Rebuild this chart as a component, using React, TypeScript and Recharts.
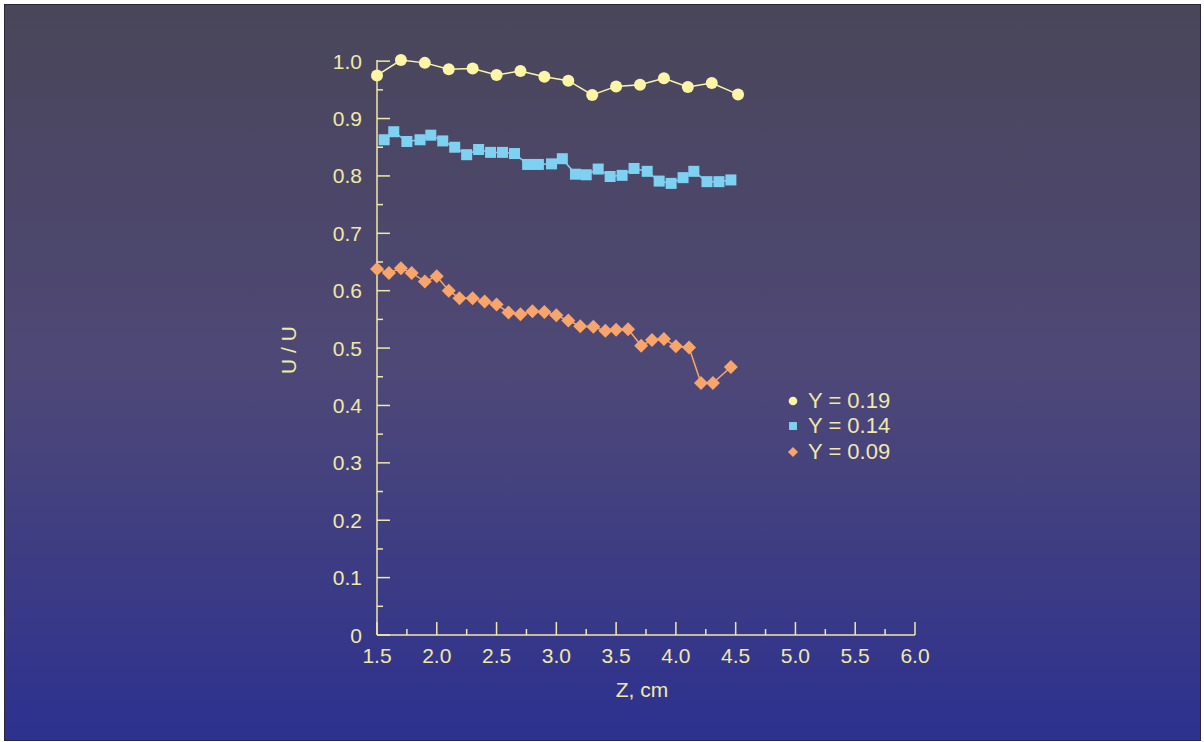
import { LineChart, Line, XAxis, YAxis, Label } from 'recharts'

// Z positions (cm) and U/U values per series
const zY19 = [1.5, 1.7, 1.9, 2.1, 2.3, 2.5, 2.7, 2.9, 3.1, 3.3, 3.5, 3.7, 3.9, 4.1, 4.3, 4.52]
const uY19 = [0.975, 1.002, 0.997, 0.986, 0.987, 0.976, 0.983, 0.973, 0.966, 0.941, 0.956, 0.959, 0.97, 0.955, 0.962, 0.942]

const zY14 = [1.56, 1.64, 1.75, 1.86, 1.95, 2.05, 2.15, 2.25, 2.35, 2.45, 2.55, 2.65, 2.76, 2.85, 2.96, 3.05, 3.16, 3.25, 3.35, 3.45, 3.55, 3.65, 3.76, 3.86, 3.96, 4.06, 4.15, 4.26, 4.36, 4.46]
const uY14 = [0.863, 0.877, 0.86, 0.863, 0.871, 0.861, 0.85, 0.837, 0.846, 0.841, 0.841, 0.839, 0.82, 0.82, 0.821, 0.83, 0.803, 0.802, 0.812, 0.799, 0.801, 0.813, 0.808, 0.791, 0.787, 0.797, 0.808, 0.79, 0.79, 0.793]

const zY09 = [1.5, 1.6, 1.7, 1.79, 1.9, 2.0, 2.1, 2.19, 2.3, 2.4, 2.5, 2.6, 2.7, 2.8, 2.9, 3.0, 3.1, 3.2, 3.31, 3.41, 3.5, 3.6, 3.71, 3.8, 3.9, 4.0, 4.11, 4.21, 4.31, 4.46]
const uY09 = [0.638, 0.631, 0.639, 0.631, 0.616, 0.625, 0.6, 0.587, 0.587, 0.581, 0.576, 0.562, 0.559, 0.564, 0.563, 0.557, 0.548, 0.538, 0.537, 0.53, 0.532, 0.533, 0.504, 0.514, 0.516, 0.503, 0.501, 0.439, 0.439, 0.467]

const xTicks = [1.5, 1.75, 2.0, 2.25, 2.5, 2.75, 3.0, 3.25, 3.5, 3.75, 4.0, 4.25, 4.5, 4.75, 5.0, 5.25, 5.5, 5.75, 6.0]
const yTicks = [0, 0.05, 0.1, 0.15, 0.2, 0.25, 0.3, 0.35, 0.4, 0.45, 0.5, 0.55, 0.6, 0.65, 0.7, 0.75, 0.8, 0.85, 0.9, 0.95, 1.0]

const toRows = (z: number[], u: number[]) => z.map((v, i) => ({ z: v, u: u[i] }))

const AXIS = '#f1e9a6'
const FONT = 'Liberation Sans, Arial, sans-serif'
const AXIS_X = 372
const AXIS_Y = 630

const series = [
  { name: 'Y = 0.19', color: '#fdf5a6', shape: 'circle', data: toRows(zY19, uY19) },
  { name: 'Y = 0.14', color: '#7fd1f2', shape: 'square', data: toRows(zY14, uY14) },
  { name: 'Y = 0.09', color: '#f8a56b', shape: 'diamond', data: toRows(zY09, uY09) },
]

function Marker({ shape, cx, cy, color, s = 1 }: any) {
  if (shape === 'circle') return <circle cx={cx} cy={cy} r={6 * s} fill={color} />
  if (shape === 'square') {
    const h = 5.5 * s
    return <rect x={cx - h} y={cy - h} width={h * 2} height={h * 2} fill={color} />
  }
  const d = 7 * s
  return <polygon points={`${cx},${cy - d} ${cx + d},${cy} ${cx},${cy + d} ${cx - d},${cy}`} fill={color} />
}

function XTick({ x, index, payload }: any) {
  const major = index % 2 === 0
  return (
    <g>
      <line x1={x} x2={x} y1={AXIS_Y} y2={AXIS_Y - (major ? 13 : 6)} stroke={AXIS} strokeWidth={1.5} />
      {major && (
        <text x={x} y={AXIS_Y + 28} textAnchor="middle" fill={AXIS} fontSize={21} fontFamily={FONT}>
          {payload.value.toFixed(1)}
        </text>
      )}
    </g>
  )
}

function YTick({ y, index, payload }: any) {
  const major = index % 2 === 0
  return (
    <g>
      <line x1={AXIS_X} x2={AXIS_X + (major ? 13 : 6)} y1={y} y2={y} stroke={AXIS} strokeWidth={1.5} />
      {major && (
        <text x={AXIS_X - 15} y={y + 7.5} textAnchor="end" fill={AXIS} fontSize={21} fontFamily={FONT}>
          {payload.value === 0 ? '0' : payload.value.toFixed(1)}
        </text>
      )}
    </g>
  )
}

function LegendBox() {
  return (
    <div style={{ position: 'absolute', left: 780, top: 383, fontFamily: FONT, fontSize: 22, color: AXIS }}>
      {series.map((s) => (
        <div key={s.name} style={{ display: 'flex', alignItems: 'center', height: 25.5 }}>
          <svg width={16} height={16} style={{ marginRight: 7 }}>
            <Marker shape={s.shape} cx={8} cy={8} color={s.color} s={0.72} />
          </svg>
          <span>{s.name}</span>
        </div>
      ))}
    </div>
  )
}

export default function App() {
  return (
    <div
      style={{
        position: 'absolute',
        left: 4,
        top: 4,
        width: 1195,
        height: 735,
        border: '1px solid #2a2838',
        background: 'linear-gradient(to bottom, #4a4659 0%, #4e4877 50%, #2d318f 100%)',
      }}
    >
      <LineChart width={1195} height={735} margin={{ top: 55, right: 285, bottom: 65, left: 312 }}>
        <XAxis
          type="number"
          dataKey="z"
          domain={[1.5, 6]}
          ticks={xTicks}
          interval={0}
          height={40}
          tickLine={false}
          axisLine={{ stroke: AXIS, strokeWidth: 1.5 }}
          tick={<XTick />}
          allowDuplicatedCategory={false}
        >
          <Label
            content={() => (
              <text x={637} y={692} textAnchor="middle" fill={AXIS} fontSize={21} fontFamily={FONT}>
                Z, cm
              </text>
            )}
          />
        </XAxis>
        <YAxis
          type="number"
          dataKey="u"
          domain={[0, 1]}
          ticks={yTicks}
          interval={0}
          width={60}
          tickLine={false}
          axisLine={{ stroke: AXIS, strokeWidth: 1.5 }}
          tick={<YTick />}
        >
          <Label
            content={() => (
              <text
                x={291}
                y={345}
                transform="rotate(-90 291 345)"
                textAnchor="middle"
                fill={AXIS}
                fontSize={21}
                fontFamily={FONT}
              >
                U / U
              </text>
            )}
          />
        </YAxis>
        {series.map((s) => (
          <Line
            key={s.name}
            data={s.data}
            dataKey="u"
            name={s.name}
            type="linear"
            stroke={s.color}
            strokeWidth={1.5}
            dot={(p: any) => <Marker key={`${s.name}-${p.index}`} shape={s.shape} cx={p.cx} cy={p.cy} color={s.color} />}
            activeDot={false}
            isAnimationActive={false}
          />
        ))}
      </LineChart>
      <LegendBox />
    </div>
  )
}
